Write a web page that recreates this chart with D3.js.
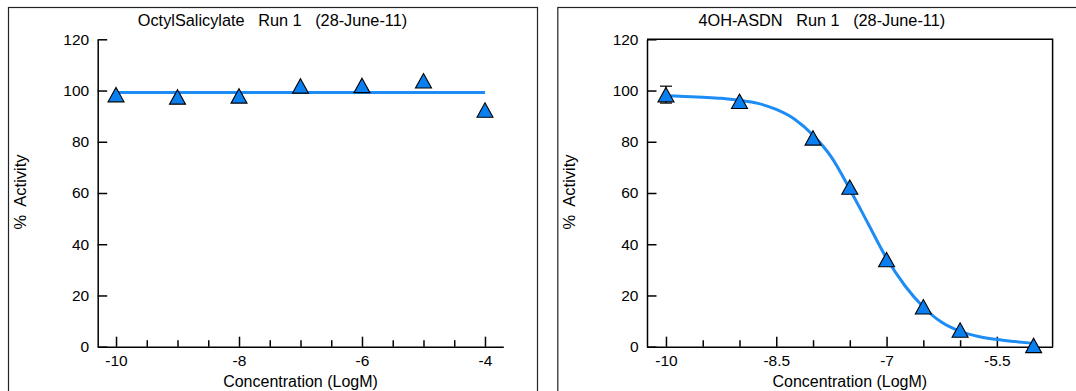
<!DOCTYPE html>
<html>
<head>
<meta charset="utf-8">
<script src="https://cdn.jsdelivr.net/npm/d3@7/dist/d3.min.js"></script>
<style>
  html, body { margin: 0; padding: 0; background: #fff; }
  svg { display: block; }
  text { font-family: "Liberation Sans", Arial, sans-serif; fill: #000; }
</style>
</head>
<body>
<svg id="chart" width="1076" height="391"></svg>
<script>
// ---------- data ----------
const leftTitle = "OctylSalicylate   Run 1   (28-June-11)";
const rightTitle = "4OH-ASDN   Run 1   (28-June-11)";
const yLabel = "%  Activity";
const xLabel = "Concentration (LogM)";

const leftX = [-10, -9, -8, -7, -6, -5, -4];
const leftY = [98.4, 97.5, 97.9, 101.8, 102.0, 103.8, 92.4];
const leftFitX = [-10, -4];
const leftFitY = [99.2, 99.2];
const leftMajorTicks = [-10, -8, -6, -4];
const leftMinorTicks = [-9.5, -9, -8.5, -7.5, -7, -6.5, -5.5, -5, -4.5];

const rightX = [-10, -9, -8, -7.5, -7, -6.5, -6, -5];
const rightY = [98.4, 95.8, 81.5, 62.3, 34.0, 15.6, 6.5, 0.5];
const rightErr = [3.3, 0, 0, 0, 0, 0, 0, 0];
const rightFitX = [-10, -9.75, -9.5, -9.25, -9, -8.75, -8.5, -8.25, -8, -7.75, -7.5, -7.25, -7, -6.75, -6.5, -6.25, -6, -5.75, -5.5, -5.25, -5];
const rightFitY = [98.0, 97.7, 97.4, 97.0, 96.2, 95.0, 92.6, 88.8, 82.6, 74.0, 61.5, 48.0, 34.5, 23.8, 15.5, 9.5, 6.0, 4.0, 2.8, 2.0, 1.3];
const rightMajorTicks = [-10, -8.5, -7, -5.5];
const rightMinorTicks = [-9.5, -9, -8, -7.5, -6.5, -6, -5];

const yTicks = [0, 20, 40, 60, 80, 100, 120];

// ---------- layout ----------
const svg = d3.select("#chart");
const lineColor = "#1e8cf5";
const markerFill = "#0a80f0";
const FONT = "Liberation Sans, Arial, sans-serif";

function panel(opts) {
  const g = svg.append("g");
  const px = opts.panelX;
  // outer panel border
  g.append("rect")
    .attr("x", px + 0.5).attr("y", 7.5)
    .attr("width", 529).attr("height", 420)
    .attr("fill", "none").attr("stroke", "#222").attr("stroke-width", 1.2);

  const plotL = px + 89.7, plotR = plotL + 405.6;
  const plotT = 39.3, plotB = 346.7;
  const x = d3.scaleLinear().domain(opts.xDomain).range([plotL, plotR]);
  const y = d3.scaleLinear().domain([0, 120]).range([plotB, plotT]);

  if (opts.box) {
    g.append("path")
      .attr("d", `M${plotL},${plotT}H${plotR}V${plotB}`)
      .attr("fill", "none").attr("stroke", "#000").attr("stroke-width", 1.5);
  }

  // x minor ticks
  g.append("g").attr("transform", `translate(0,${plotB})`)
    .call(d3.axisBottom(x).tickValues(opts.minor).tickSize(-6.5).tickSizeOuter(0).tickFormat(""))
    .call(a => a.select(".domain").remove())
    .call(a => a.selectAll("line").attr("stroke", "#000").attr("stroke-width", 1.5));
  // x major ticks
  g.append("g").attr("transform", `translate(0,${plotB})`)
    .call(d3.axisBottom(x).tickValues(opts.major).tickSize(-10).tickSizeOuter(0).tickPadding(8.3)
      .tickFormat(d => String(d)))
    .call(a => a.select(".domain").attr("stroke", "#000").attr("stroke-width", 1.5))
    .call(a => a.selectAll("line").attr("stroke", "#000").attr("stroke-width", 1.5))
    .call(a => a.selectAll("text").attr("font-size", 15.5).attr("font-family", FONT));
  // y axis
  g.append("g").attr("transform", `translate(${plotL},0)`)
    .call(d3.axisLeft(y).tickValues(yTicks).tickSize(-9.5).tickSizeOuter(0).tickPadding(8.5)
      .tickFormat(d => String(d)))
    .call(a => a.select(".domain").attr("stroke", "#000").attr("stroke-width", 1.5))
    .call(a => a.selectAll("line").attr("stroke", "#000").attr("stroke-width", 1.5))
    .call(a => a.selectAll("text").attr("font-size", 15.5).attr("font-family", FONT));

  // title
  g.append("text").attr("x", px + 264.5).attr("y", 25.5)
    .attr("text-anchor", "middle").attr("font-size", 16.3)
    .style("white-space", "pre")
    .text(opts.title);
  // x label
  g.append("text").attr("x", (plotL + plotR) / 2).attr("y", 387)
    .attr("text-anchor", "middle").attr("font-size", 16)
    .text(xLabel);
  // y label
  g.append("text")
    .attr("transform", `translate(${px + 17.5},${(plotT + plotB) / 2 - 1}) rotate(-90)`)
    .attr("text-anchor", "middle").attr("font-size", 16.5)
    .style("white-space", "pre")
    .text(yLabel);

  // fitted line
  const line = d3.line().x(d => x(d[0])).y(d => y(d[1])).curve(opts.curve);
  g.append("path")
    .datum(d3.zip(opts.fitX, opts.fitY))
    .attr("d", line)
    .attr("fill", "none").attr("stroke", lineColor).attr("stroke-width", 3)
    .attr("stroke-linejoin", "round");

  // error bars
  if (opts.err) {
    const eg = g.append("g").attr("stroke", "#000").attr("stroke-width", 1.2);
    opts.dataX.forEach((xv, i) => {
      const e = opts.err[i];
      if (!e) return;
      const cx = x(xv), y0 = y(opts.dataY[i] - e), y1 = y(opts.dataY[i] + e);
      eg.append("line").attr("x1", cx).attr("x2", cx).attr("y1", y0).attr("y2", y1);
      eg.append("line").attr("x1", cx - 6).attr("x2", cx + 6).attr("y1", y0).attr("y2", y0);
      eg.append("line").attr("x1", cx - 6).attr("x2", cx + 6).attr("y1", y1).attr("y2", y1);
    });
  }

  // triangle markers
  g.append("g").selectAll("path")
    .data(d3.zip(opts.dataX, opts.dataY))
    .join("path")
    .attr("d", d => {
      const cx = x(d[0]), cy = y(d[1]);
      return `M${cx},${cy - 7.2}L${cx + 8},${cy + 7.2}L${cx - 8},${cy + 7.2}Z`;
    })
    .attr("fill", markerFill).attr("stroke", "#000").attr("stroke-width", 1.1)
    .attr("stroke-linejoin", "miter");
}

panel({
  panelX: 8, xDomain: [-10.298, -3.702], box: false,
  major: leftMajorTicks, minor: leftMinorTicks,
  title: leftTitle,
  fitX: leftFitX, fitY: leftFitY, curve: d3.curveLinear,
  dataX: leftX, dataY: leftY, err: null
});
panel({
  panelX: 557.3, xDomain: [-10.258, -4.742], box: true,
  major: rightMajorTicks, minor: rightMinorTicks,
  title: rightTitle,
  fitX: rightFitX, fitY: rightFitY, curve: d3.curveMonotoneX,
  dataX: rightX, dataY: rightY, err: rightErr
});
</script>
</body>
</html>
